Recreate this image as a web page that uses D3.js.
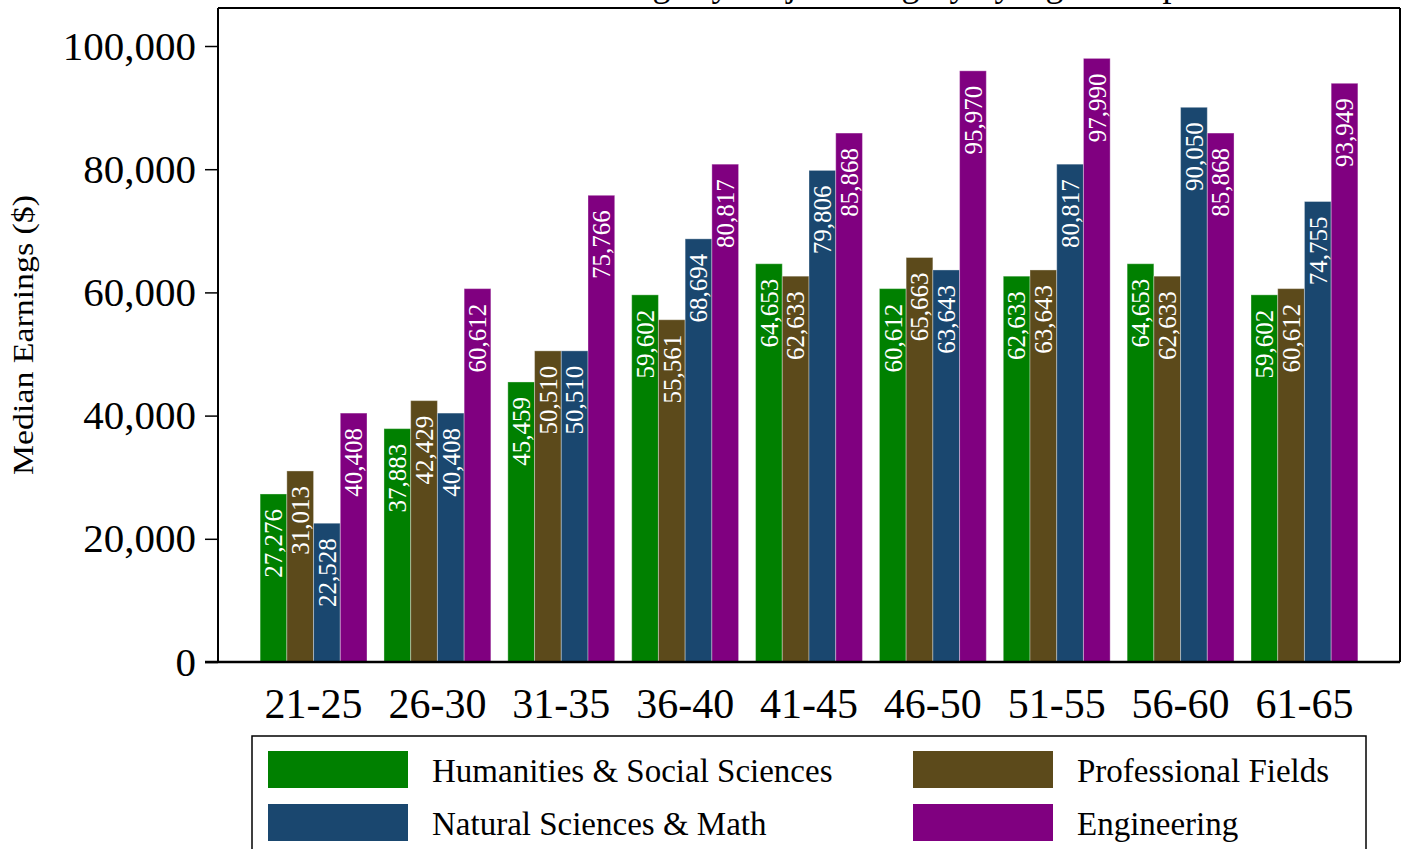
<!DOCTYPE html>
<html>
<head>
<meta charset="utf-8">
<script src="https://cdn.jsdelivr.net/npm/d3@7"></script>
<style>
  body { margin: 0; background: #fff; }
  svg text { font-family: "Liberation Serif", "Times New Roman", serif; }
</style>
</head>
<body>
<div id="chart"></div>
<script>
// age groups along the x axis
const ageGroups = ["21-25", "26-30", "31-35", "36-40", "41-45", "46-50", "51-55", "56-60", "61-65"];

// one array per major category
const humanities   = [27276, 37883, 45459, 59602, 64653, 60612, 62633, 64653, 59602];
const professional = [31013, 42429, 50510, 55561, 62633, 65663, 63643, 62633, 60612];
const naturalSci   = [22528, 40408, 50510, 68694, 79806, 63643, 80817, 90050, 74755];
const engineering  = [40408, 60612, 75766, 80817, 85868, 95970, 97990, 85868, 93949];

const seriesNames = ["Humanities & Social Sciences", "Professional Fields",
                     "Natural Sciences & Math", "Engineering"];
const yTicks = [0, 20000, 40000, 60000, 80000, 100000];

const colors = ["#008000", "#5c4a1b", "#1a476f", "#800080"];

class BarChart {
    constructor() {
        this.width = 1403;
        this.height = 849;
        this.svg = d3.select("#chart").append("svg")
            .attr("width", this.width)
            .attr("height", this.height);

        this.plot = { left: 218, right: 1400, top: 8, bottom: 662 };

        this.series = [humanities, professional, naturalSci, engineering];
        this.rows = ageGroups.map((g, i) => ({
            group: g,
            values: this.series.map((s, k) => ({ key: k, value: s[i] }))
        }));

        this.setScales();
    }

    setScales() {
        // 100,000 sits at y = 46 in the reference
        this.y = d3.scaleLinear()
            .domain([0, 100000])
            .range([this.plot.bottom, 46]);

        this.x = d3.scaleBand()
            .domain(ageGroups)
            .range([this.plot.left, this.plot.right])
            .paddingInner(0.137)
            .paddingOuter(0.34);

        this.xInner = d3.scaleBand()
            .domain(d3.range(this.series.length))
            .range([0, this.x.bandwidth()]);
    }

    draw() {
        let svg = this.svg;
        let p = this.plot;

        // title, mostly cropped at the top edge (as in the source image)
        svg.append("text")
            .attr("x", (p.left + p.right) / 2)
            .attr("y", -4)
            .attr("text-anchor", "middle")
            .style("font-size", "36px")
            .text("Median Earnings by Major Category by Age Group");

        // bars
        let groups = svg.append("g").selectAll("g")
            .data(this.rows)
            .enter()
            .append("g")
            .attr("transform", d => `translate(${this.x(d.group)},0)`);

        groups.selectAll("rect")
            .data(d => d.values)
            .enter()
            .append("rect")
            .attr("x", d => this.xInner(d.key))
            .attr("y", d => this.y(d.value))
            .attr("width", this.xInner.bandwidth())
            .attr("height", d => this.y(0) - this.y(d.value))
            .attr("fill", d => colors[d.key])
            .attr("stroke", "rgba(255,255,255,0.35)")
            .attr("stroke-width", 1);

        // value labels inside the bars
        groups.selectAll("text")
            .data(d => d.values)
            .enter()
            .append("text")
            .attr("transform", d => {
                let cx = this.xInner(d.key) + this.xInner.bandwidth() / 2;
                let cy = this.y(d.value) + 15;
                return `translate(${cx},${cy}) rotate(-90)`;
            })
            .attr("dy", "0.35em")
            .attr("text-anchor", "end")
            .attr("fill", "#fff")
            .style("font-size", "25px")
            .text(d => d3.format(",")(d.value));

        // y axis
        let yAxis = svg.append("g")
            .attr("transform", `translate(${p.left},0)`)
            .call(d3.axisLeft(this.y)
                .tickValues(yTicks)
                .tickFormat(d3.format(","))
                .tickSize(13)
                .tickSizeOuter(0)
                .tickPadding(9));
        yAxis.select(".domain").remove();
        yAxis.selectAll("line").attr("stroke", "#000").attr("stroke-width", 1.5);
        yAxis.selectAll("text")
            .attr("fill", "#000")
            .style("font-size", "41px")
            .style("font-family", "'Liberation Serif', serif");

        // x axis
        let xAxis = svg.append("g")
            .attr("transform", `translate(0,${p.bottom})`)
            .call(d3.axisBottom(this.x).tickSize(0).tickSizeOuter(0).tickPadding(26));
        xAxis.select(".domain").remove();
        xAxis.selectAll("text")
            .attr("fill", "#000")
            .style("font-size", "42px")
            .style("font-family", "'Liberation Serif', serif");

        // frame around plot region
        svg.append("line")
            .attr("x1", p.left).attr("x2", p.left)
            .attr("y1", p.top).attr("y2", p.bottom)
            .attr("stroke", "#000").attr("stroke-width", 2);
        svg.append("line")
            .attr("x1", p.left).attr("x2", p.right)
            .attr("y1", p.top).attr("y2", p.top)
            .attr("stroke", "#000").attr("stroke-width", 2);
        svg.append("line")
            .attr("x1", p.right).attr("x2", p.right)
            .attr("y1", p.top).attr("y2", p.bottom)
            .attr("stroke", "#000").attr("stroke-width", 2);
        svg.append("line")
            .attr("x1", 205).attr("x2", p.right)
            .attr("y1", p.bottom).attr("y2", p.bottom)
            .attr("stroke", "#000").attr("stroke-width", 2.5);

        // y axis title
        svg.append("text")
            .attr("transform", `translate(33,${(p.top + p.bottom) / 2}) rotate(-90)`)
            .attr("text-anchor", "middle")
            .attr("textLength", 280)
            .attr("lengthAdjust", "spacingAndGlyphs")
            .style("font-size", "30px")
            .text("Median Earnings ($)");

        this.drawLegend();
    }

    drawLegend() {
        let legend = this.svg.append("g");

        legend.append("rect")
            .attr("x", 252)
            .attr("y", 736)
            .attr("width", 1114)
            .attr("height", 140)
            .attr("fill", "#fff")
            .attr("stroke", "#000")
            .attr("stroke-width", 1.5);

        let cols = [268, 913];
        let rowsY = [751, 804];

        let items = legend.selectAll("g.item")
            .data(seriesNames)
            .enter()
            .append("g")
            .attr("class", "item")
            .attr("transform", (d, i) => `translate(${cols[i % 2]},${rowsY[Math.floor(i / 2)]})`);

        items.append("rect")
            .attr("width", 140)
            .attr("height", 37)
            .attr("fill", (d, i) => colors[i]);

        items.append("text")
            .attr("x", 164)
            .attr("y", 31)
            .style("font-size", "33px")
            .text(d => d);
    }
}

let chart = new BarChart();
chart.draw();
</script>
</body>
</html>
